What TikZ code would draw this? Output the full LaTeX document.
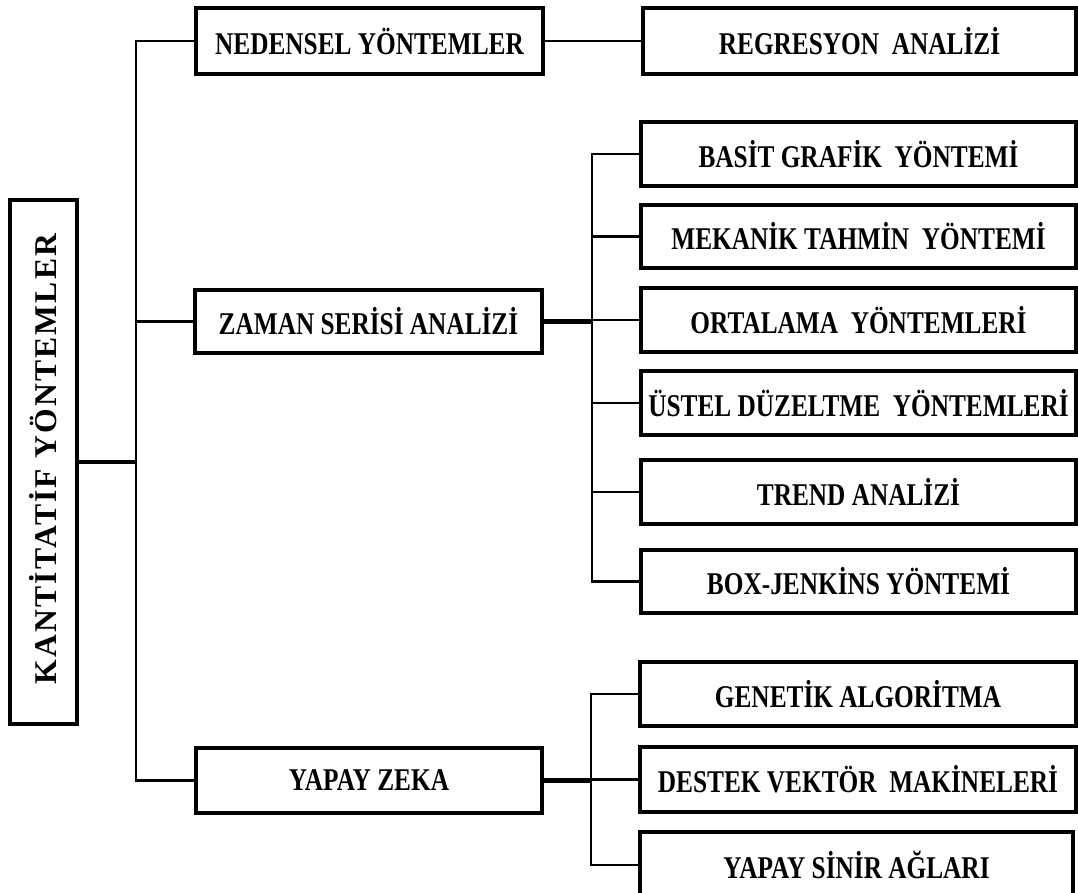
\documentclass[tikz,border=0pt]{standalone}
\usepackage{fontspec}
\newfontfamily\lblfont{Liberation Serif}[FakeStretch=0.8]
\newfontfamily\kanfont{Liberation Serif}[LetterSpace=7]
\begin{document}
\begin{tikzpicture}[x=0.025cm, y=-0.025cm,
  box/.style n args={2}{draw, line width=2.2pt, inner sep=0pt,
    minimum width=#1*0.025cm, minimum height=#2*0.025cm,
    font=\lblfont\bfseries\fontsize{22.5}{26}\selectfont},
  link/.style={line width=2.1pt},
  heavy/.style={line width=2.9pt},
  heavier/.style={line width=4.2pt}]
\useasboundingbox (0,0) rectangle (1078,893);
\clip (0,0) rectangle (1078,893);

% root
\node[box={67}{524}] (kan) at (43.5,462) {};
\node[rotate=90, font=\kanfont\bfseries\fontsize{22.5}{26}\selectfont] (kantxt) at (43.5,459) {KANTİTATİF YÖNTEMLER};

% first level
\node[box={347}{66}] (ned) at (369.5,41) {NEDENSEL YÖNTEMLER};
\node[box={347}{63}] (zam) at (368.5,321.5) {ZAMAN SERİSİ ANALİZİ};
\node[box={346}{65}] (yz)  at (369,780.5) {YAPAY ZEKA};

% causal methods
\node[box={433}{66}] (reg) at (859.5,41) {REGRESYON\ \ ANALİZİ};

% time series methods
\node[box={435}{64}] (bas) at (858.5,154)   {BASİT GRAFİK\ \ YÖNTEMİ};
\node[box={435}{63}] (mek) at (858.5,236.5) {MEKANİK TAHMİN\ \ YÖNTEMİ};
\node[box={435}{64}] (ort) at (858.5,320)   {ORTALAMA\ \ YÖNTEMLERİ};
\node[box={435}{64}] (ust) at (858.5,403)   {ÜSTEL DÜZELTME\ \ YÖNTEMLERİ};
\node[box={435}{64}] (tre) at (858.5,492)   {TREND ANALİZİ};
\node[box={435}{63}] (bjk) at (858.5,581.5) {BOX-JENKİNS YÖNTEMİ};

% artificial intelligence methods
\node[box={436}{64}] (gen) at (858,694)   {GENETİK ALGORİTMA};
\node[box={436}{65}] (des) at (858,779.5) {DESTEK VEKTÖR\ \ MAKİNELERİ};
\node[box={433}{66}] (sin) at (856.5,865) {YAPAY SİNİR AĞLARI};

% bus lines
\coordinate (spine) at (136,0);
\coordinate (zbus) at (592,0);
\coordinate (ybus) at (591,0);

% root to first level
\draw[link] (ned.west) -- (ned.west -| spine) -- (yz.west -| spine) -- (yz.west);
\draw[link] (zam.west) -- (zam.west -| spine);
\draw[heavy] (kan.east) -- (kan.east -| spine);

% causal branch
\draw[link] (ned.east) -- (reg.west);

% time series branch
\draw[heavier] (zam.east) -- (zam.east -| zbus);
\draw[link] (bas.west) -- (bas.west -| zbus) -- (bjk.west -| zbus) -- (bjk.west);
\draw[link] (mek.west) -- (mek.west -| zbus);
\draw[link] (ort.west) -- (ort.west -| zbus);
\draw[link] (ust.west) -- (ust.west -| zbus);
\draw[link] (tre.west) -- (tre.west -| zbus);

% artificial intelligence branch
\draw[heavy] (yz.east) -- (yz.east -| ybus);
\draw[link] (gen.west) -- (gen.west -| ybus) -- (sin.west -| ybus) -- (sin.west);
\draw[link] (des.west) -- (des.west -| ybus);
\end{tikzpicture}
\end{document}
